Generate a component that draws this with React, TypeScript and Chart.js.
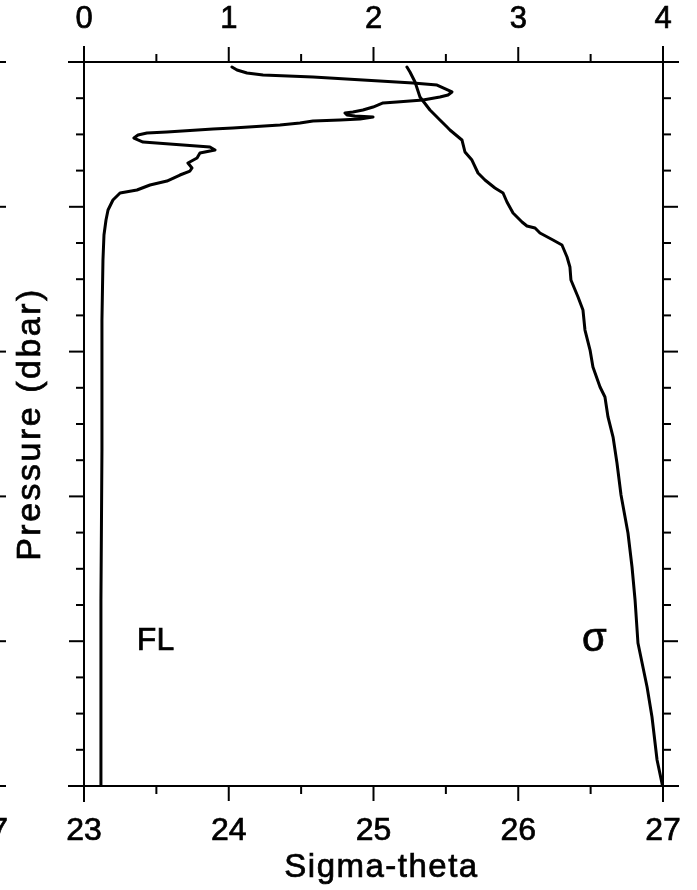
import React, { useEffect, useRef } from "react";
import { Chart, registerables } from "chart.js";

Chart.register(...registerables);

// ---- Data ----
// Sigma-theta profile (bottom axis), pressure in arbitrary dbar units (0 top .. 100 bottom)
const sigmaValues = [
  25.231, 25.252, 25.287, 25.321, 25.39, 25.459, 25.508, 25.528, 25.611, 25.632,
  25.68, 25.722, 25.77, 25.839, 25.895, 25.922, 25.964, 26.026, 26.06, 26.116,
  26.15, 26.24, 26.302, 26.337, 26.357, 26.364, 26.413, 26.447, 26.461, 26.496,
  26.516, 26.565, 26.599, 26.62, 26.655, 26.682, 26.71, 26.758, 26.786, 26.807,
  26.827, 26.89, 26.924, 26.959, 26.997,
];
const sigmaPressure = [
  0.69, 1.38, 2.76, 4.83, 6.63, 8.01, 8.98, 9.39, 10.77, 12.43,
  13.54, 15.33, 16.3, 17.4, 18.09, 19.34, 20.86, 22.1, 22.65, 22.93,
  23.62, 24.59, 25.28, 26.93, 28.31, 30.11, 32.46, 34.25, 37.02, 39.78,
  42.13, 44.89, 46.27, 49.03, 51.8, 55.39, 59.8, 65.06, 69.75, 74.31,
  80.25, 86.33, 90.47, 96.41, 100,
];

// Fluorescence profile (top axis)
const flValues = [
  1.022, 1.057, 1.126, 1.237, 1.582, 1.927, 2.273, 2.439, 2.542, 2.515,
  2.459, 2.342, 2.162, 2.066, 1.997, 1.927, 1.858, 1.803, 1.817, 1.872,
  1.997, 1.907, 1.769, 1.582, 1.492, 1.354, 1.029, 0.891, 0.573, 0.435,
  0.373, 0.345, 0.408, 0.684, 0.87, 0.905, 0.801, 0.781, 0.718, 0.746,
  0.732, 0.663, 0.573, 0.456, 0.366, 0.249, 0.2, 0.166, 0.152, 0.138,
  0.131, 0.124, 0.124, 0.117, 0.117,
];
const flPressure = [
  0.69, 1.1, 1.52, 1.8, 2.07, 2.49, 2.9, 3.18, 4.14, 4.56,
  4.83, 5.25, 5.52, 5.66, 6.22, 6.63, 6.91, 7.04, 7.32, 7.46,
  7.6, 7.87, 8.01, 8.15, 8.43, 8.7, 9.12, 9.25, 9.67, 9.81,
  10.08, 10.5, 11.05, 11.46, 11.74, 12.15, 12.57, 13.26, 13.95, 14.64,
  15.06, 15.61, 16.44, 16.99, 17.68, 18.09, 19.06, 20.44, 21.82, 23.9,
  27.35, 35.64, 53.59, 74.31, 100,
];

// Tick values / labels
const sigmaTicks = [23, 24, 25, 26, 27];
const sigmaMinorTicks = [23.5, 24.5, 25.5, 26.5];
const flTicks = [0, 1, 2, 3, 4];
const flMinorTicks = [0.5, 1.5, 2.5, 3.5];
const pressureMajor = [0, 20, 40, 60, 80, 100];
const pressureMinor = [5, 10, 15, 25, 30, 35, 45, 50, 55, 65, 70, 75, 85, 90, 95];

const xTitle = "Sigma-theta";
const yTitle = "Pressure (dbar)";
const flLabel = "FL";
const sigmaLabel = "σ";

const FONT = '"Liberation Sans", Arial, Helvetica, sans-serif';

const axesPlugin = {
  id: "framedAxes",
  afterDraw(chart: any) {
    const ctx = chart.ctx as CanvasRenderingContext2D;
    const xs = chart.scales.x;
    const xt = chart.scales.xTop;
    const ys = chart.scales.y;
    const left = xs.getPixelForValue(23);
    const right = xs.getPixelForValue(27);
    const top = ys.getPixelForValue(0);
    const bottom = ys.getPixelForValue(100);
    const ext = 16;
    const major = 15;
    const minor = 8;
    ctx.save();
    ctx.strokeStyle = "#000";
    ctx.fillStyle = "#000";
    ctx.lineWidth = 2;
    ctx.lineCap = "butt";
    const line = (x1: number, y1: number, x2: number, y2: number) => {
      ctx.beginPath();
      ctx.moveTo(x1, y1);
      ctx.lineTo(x2, y2);
      ctx.stroke();
    };
    // frame with extensions past corners
    line(left, top - ext, left, bottom + ext);
    line(right, top - ext, right, bottom + ext);
    line(left - ext, top, right + ext, top);
    line(left - ext, bottom, right + ext, bottom);

    // left/right pressure ticks (outward)
    pressureMajor.forEach((p) => {
      const y = ys.getPixelForValue(p);
      line(left - major, y, left, y);
      line(right, y, right + major, y);
      // neighbouring panel's ticks at the left page edge
      line(0, y, 6, y);
    });
    pressureMinor.forEach((p) => {
      const y = ys.getPixelForValue(p);
      line(left - minor, y, left, y);
      line(right, y, right + minor, y);
    });
    // bottom sigma ticks (outward, down)
    sigmaTicks.forEach((v) => {
      const x = xs.getPixelForValue(v);
      line(x, bottom, x, bottom + major);
    });
    sigmaMinorTicks.forEach((v) => {
      const x = xs.getPixelForValue(v);
      line(x, bottom, x, bottom + minor);
    });
    // top FL ticks (outward, up)
    flTicks.forEach((v) => {
      const x = xt.getPixelForValue(v);
      line(x, top - major, x, top);
    });
    flMinorTicks.forEach((v) => {
      const x = xt.getPixelForValue(v);
      line(x, top - minor, x, top);
    });

    // text: fill plus a thin stroke to mimic the heavier printed type
    const txt = (s: string, x: number, y: number) => {
      ctx.fillText(s, x, y);
      ctx.lineWidth = 0.7;
      ctx.strokeText(s, x, y);
    };

    // tick labels
    ctx.textAlign = "center";
    ctx.textBaseline = "middle";
    ctx.font = `31px ${FONT}`;
    flTicks.forEach((v) => {
      txt(String(v), xt.getPixelForValue(v), top - 43);
    });
    ctx.font = `32px ${FONT}`;
    sigmaTicks.forEach((v) => {
      txt(String(v), xs.getPixelForValue(v), bottom + 45);
    });
    // neighbouring panel label fragment
    ctx.textAlign = "right";
    txt("27", 8, bottom + 45);

    // axis titles
    ctx.textAlign = "center";
    ctx.font = `33px ${FONT}`;
    (ctx as any).letterSpacing = "1.5px";
    txt(xTitle, (left + right) / 2 + 8, bottom + 82);
    ctx.save();
    ctx.translate(31, (top + bottom) / 2);
    ctx.rotate(-Math.PI / 2);
    ctx.font = `34px ${FONT}`;
    (ctx as any).letterSpacing = "2.5px";
    txt(yTitle, 0, 0);
    ctx.restore();
    (ctx as any).letterSpacing = "0px";

    // curve labels
    ctx.textAlign = "left";
    ctx.textBaseline = "alphabetic";
    ctx.font = `32px ${FONT}`;
    txt(flLabel, xt.getPixelForValue(0.365), ys.getPixelForValue(81.2));
    ctx.font = `40px ${FONT}`;
    txt(sigmaLabel, xs.getPixelForValue(26.44), ys.getPixelForValue(81.3));
    ctx.restore();
  },
};

export default function App() {
  const ref = useRef<HTMLCanvasElement | null>(null);
  useEffect(() => {
    if (!ref.current) return;
    const chart = new Chart(ref.current, {
      type: "scatter",
      data: {
        datasets: [
          {
            label: flLabel,
            data: flValues.map((v, i) => ({ x: v, y: flPressure[i] })),
            xAxisID: "xTop",
            yAxisID: "y",
            showLine: true,
            borderColor: "#000",
            borderWidth: 3,
            borderJoinStyle: "round",
            borderCapStyle: "round",
            pointRadius: 0,
            tension: 0,
          },
          {
            label: sigmaLabel,
            data: sigmaValues.map((v, i) => ({ x: v, y: sigmaPressure[i] })),
            xAxisID: "x",
            yAxisID: "y",
            showLine: true,
            borderColor: "#000",
            borderWidth: 3,
            borderJoinStyle: "round",
            borderCapStyle: "round",
            pointRadius: 0,
            tension: 0,
          },
        ],
      },
      options: {
        animation: false,
        responsive: false,
        devicePixelRatio: 1,
        layout: { padding: { left: 84, top: 62, right: 34, bottom: 104 } },
        plugins: { legend: { display: false }, tooltip: { enabled: false } },
        scales: {
          x: { type: "linear", min: 23, max: 27, display: false },
          xTop: { type: "linear", min: 0, max: 4, display: false, position: "top" },
          y: { type: "linear", min: 0, max: 100, reverse: true, display: false },
        },
      },
      plugins: [axesPlugin],
    });
    return () => chart.destroy();
  }, []);
  return (
    <div style={{ position: "absolute", left: 0, top: 0, width: 697, height: 890, background: "#fff" }}>
      <canvas ref={ref} width={697} height={890} />
    </div>
  );
}
